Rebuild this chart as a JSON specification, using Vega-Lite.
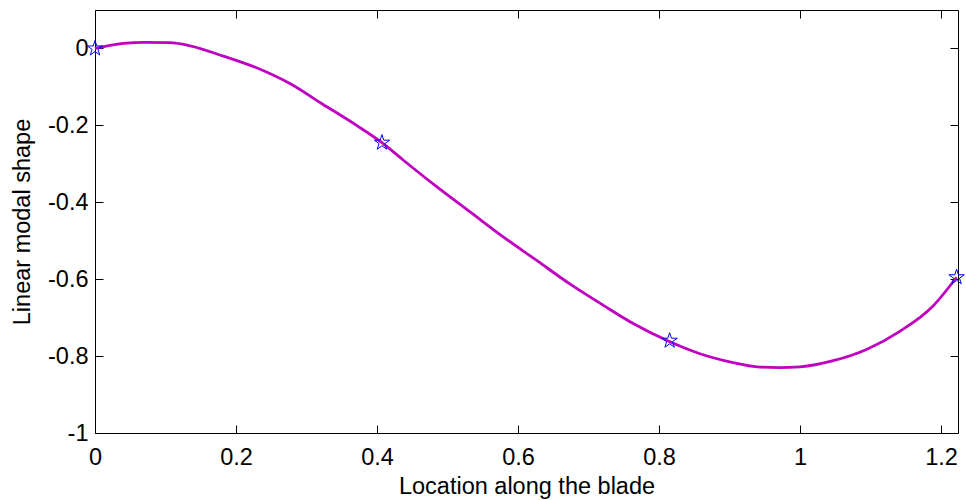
{
  "$schema": "https://vega.github.io/schema/vega-lite/v6.json",
  "autosize": {"type": "none"},
  "width": 863,
  "height": 423,
  "padding": {"left": 95, "top": 10, "right": 8, "bottom": 67},
  "background": "white",
  "config": {
    "font": "Liberation Sans",
    "view": {"stroke": "black", "strokeWidth": 1},
    "axis": {"grid": false, "domain": false, "tickColor": "black", "tickSize": 8, "offset": -8, "labelColor": "black", "titleColor": "black", "labelFont": "Liberation Sans", "titleFont": "Liberation Sans", "labelFontSize": 23.5, "titleFontSize": 23.5, "titleFontWeight": "normal", "labelFlush": false, "labelOverlap": false}
  },
  "datasets": {
    "curve": [
      {"x": 0, "y": 0}, {"x": 0.04, "y": 0.013}, {"x": 0.07, "y": 0.016}, {"x": 0.106, "y": 0.015},
      {"x": 0.135, "y": 0.007}, {"x": 0.182, "y": -0.02}, {"x": 0.23, "y": -0.051}, {"x": 0.277, "y": -0.092},
      {"x": 0.323, "y": -0.145}, {"x": 0.371, "y": -0.2}, {"x": 0.407, "y": -0.245}, {"x": 0.437, "y": -0.29},
      {"x": 0.485, "y": -0.36}, {"x": 0.532, "y": -0.425}, {"x": 0.579, "y": -0.49}, {"x": 0.627, "y": -0.552},
      {"x": 0.674, "y": -0.613}, {"x": 0.721, "y": -0.668}, {"x": 0.764, "y": -0.716}, {"x": 0.813, "y": -0.761},
      {"x": 0.858, "y": -0.794}, {"x": 0.905, "y": -0.817}, {"x": 0.939, "y": -0.828}, {"x": 0.97, "y": -0.83}, {"x": 1.0, "y": -0.828},
      {"x": 1.047, "y": -0.812}, {"x": 1.095, "y": -0.782}, {"x": 1.142, "y": -0.735}, {"x": 1.189, "y": -0.669},
      {"x": 1.222, "y": -0.595}
    ],
    "stars": [
      {"x": 0, "y": 0}, {"x": 0.407, "y": -0.245}, {"x": 0.815, "y": -0.76}, {"x": 1.222, "y": -0.595}
    ]
  },
  "layer": [
    {
      "data": {"name": "curve"},
      "mark": {"type": "line", "color": "#C000C0", "strokeWidth": 2.8, "interpolate": "monotone"},
      "encoding": {
        "x": {"field": "x", "type": "quantitative", "scale": {"domain": [0, 1.224], "nice": false, "zero": false},
              "axis": {"orient": "bottom", "title": "Location along the blade", "values": [0, 0.2, 0.4, 0.6, 0.8, 1, 1.2], "labelExpr": "'' + datum.value", "labelPadding": 12, "titlePadding": 6}},
        "y": {"field": "y", "type": "quantitative", "scale": {"domain": [-1, 0.1], "nice": false, "zero": false},
              "axis": {"orient": "left", "title": "Linear modal shape", "values": [-1, -0.8, -0.6, -0.4, -0.2, 0], "labelExpr": "'' + datum.value", "labelPadding": 7, "titlePadding": 13}}
      }
    },
    {
      "data": {"name": "stars"},
      "mark": {"type": "point", "shape": "M0,-1L0.2245,-0.309L0.9511,-0.309L0.3633,0.118L0.5878,0.809L0,0.382L-0.5878,0.809L-0.3633,0.118L-0.9511,-0.309L-0.2245,-0.309Z", "size": 260, "filled": false, "color": "#0000FF", "strokeWidth": 1, "opacity": 1},
      "encoding": {
        "x": {"field": "x", "type": "quantitative", "scale": {"domain": [0, 1.224], "nice": false, "zero": false},
              "axis": {"orient": "top", "title": null, "labels": false, "values": [0, 0.2, 0.4, 0.6, 0.8, 1, 1.2]}},
        "y": {"field": "y", "type": "quantitative", "scale": {"domain": [-1, 0.1], "nice": false, "zero": false},
              "axis": {"orient": "right", "title": null, "labels": false, "values": [-1, -0.8, -0.6, -0.4, -0.2, 0]}}
      }
    }
  ],
  "resolve": {"axis": {"x": "independent", "y": "independent"}}
}
